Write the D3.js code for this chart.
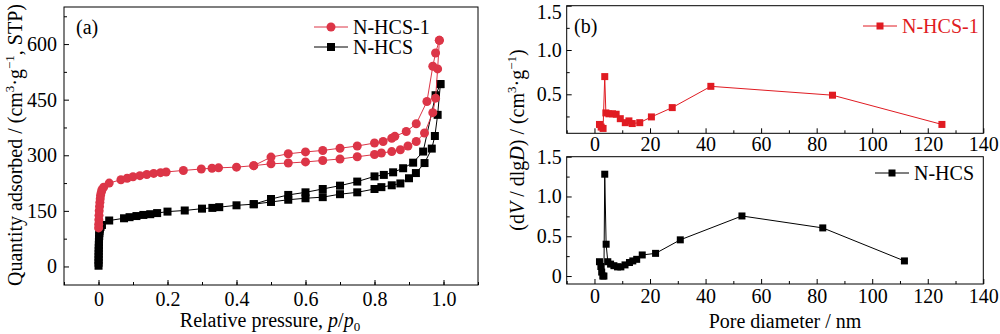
<!DOCTYPE html>
<html>
<head>
<meta charset="utf-8">
<script src="https://cdn.jsdelivr.net/npm/d3@7"></script>
<style>
  body { margin: 0; background: #fff; }
  svg text { font-family: "Liberation Serif", "Times New Roman", serif; }
</style>
</head>
<body>
<svg id="chart" width="1000" height="334"></svg>
<script>
// (a) isotherms: [p/p0, quantity adsorbed]
var hcs1Ads = [[0.0003,104],[0.0006,114],[0.001,126],[0.0015,138],[0.002,150],[0.003,162],[0.004,173],[0.005,183],[0.006,192],[0.008,200],[0.01,207],[0.015,214],
  [0.031,225],[0.065,234],[0.083,238],[0.1,242],[0.12,245],[0.14,248],[0.16,251],[0.18,253],[0.196,255],[0.246,259],[0.298,263],[0.329,265],[0.348,266],
  [0.4,268],[0.45,272],[0.5,277],[0.55,279],[0.6,282],[0.65,286],[0.7,290],[0.75,296],[0.8,302],[0.82,306],[0.85,310],[0.875,315],[0.897,325],
  [0.921,337],[0.945,360],[0.969,415],[0.977,454],[0.983,533],[0.988,610]];
var hcs1Des = [[0.988,610],[0.977,576],[0.969,540],[0.952,445],[0.921,385],[0.892,364],[0.859,351],[0.85,346],[0.825,337],[0.8,333],[0.75,325],
  [0.7,319],[0.65,313],[0.6,309],[0.55,304],[0.5,295],[0.45,272]];
var hcsAds = [[0.0001,2],[0.0002,10],[0.0003,18],[0.0004,26],[0.0005,34],[0.0006,42],[0.0008,50],[0.001,58],[0.0012,66],[0.0015,74],[0.002,82],
  [0.0025,90],[0.003,96],[0.004,102],[0.006,107],[0.01,112],[0.031,124],[0.074,130],[0.09,133],[0.11,136],[0.13,139],[0.15,141],[0.17,144],[0.2,148],
  [0.25,151],[0.3,156],[0.33,158],[0.35,160],[0.4,165],[0.45,168],[0.5,174],[0.55,180],[0.6,184],[0.65,187],[0.7,195],[0.75,200],[0.8,209],[0.82,214],
  [0.85,219],[0.875,224],[0.9,238],[0.92,252],[0.945,279],[0.966,318],[0.975,352],[0.983,409],[0.991,492]];
var hcsDes = [[0.991,492],[0.977,462],[0.941,310],[0.912,280],[0.883,265],[0.854,254],[0.827,247],[0.8,243],[0.75,229],[0.7,218],[0.65,209],
  [0.6,200],[0.55,193],[0.5,182],[0.45,168]];

// (b) pore size distributions: [pore diameter nm, dV/dlgD]
var hcs1Pore = [[1.8,0.16],[2.4,0.13],[3.1,0.115],[3.7,0.70],[4.1,0.29],[5.2,0.28],[6.5,0.28],[7.8,0.275],[9.3,0.225],[11.1,0.18],[12.4,0.20],
  [13.6,0.17],[16.3,0.18],[20.5,0.245],[28.0,0.35],[41.9,0.59],[85.7,0.49],[125.1,0.16]];
var hcsPore = [[1.8,0.18],[2.3,0.12],[2.6,0.05],[3.0,0.0],[3.4,0.0],[3.7,1.28],[4.2,0.40],[4.8,0.18],[5.8,0.15],[7.0,0.13],[8.3,0.115],[9.5,0.115],
  [11.0,0.14],[12.6,0.17],[13.8,0.19],[15.2,0.21],[17.2,0.265],[22.0,0.285],[30.9,0.455],[53.1,0.755],[82.2,0.605],[111.6,0.19]];

var isoXTicks = [0, 0.2, 0.4, 0.6, 0.8, 1.0];
var isoYTicks = [0, 150, 300, 450, 600];
var poreXTicks = [0, 20, 40, 60, 80, 100, 120, 140];
var poreYTicksTop = [0.5, 1.0, 1.5];
var poreYTicksBot = [0, 0.5, 1.0, 1.5];

var RED_A = '#dc3547', RED_B = '#e01b22';
var svg = d3.select('#chart');

function fmt(d) { return d === 0 ? '0' : d3.format('.1f')(d); }

// text with italic / sup / sub pieces
function rich(text, parts) {
  var shift = 0;
  parts.forEach(function (p) {
    var t = text.append('tspan').text(p[0]);
    var target = p[1] === 'sup' ? -8 : (p[1] === 'sub' ? 4 : 0);
    if (target !== shift) t.attr('dy', target - shift);
    shift = target;
    if (p[1] === 'i') t.style('font-style', 'italic');
    if (p[1] === 'sup' || p[1] === 'sub') t.attr('font-size', 13);
  });
}

function frame(x, y) {
  svg.append('rect')
    .attr('x', x.range()[0]).attr('y', y.range()[1])
    .attr('width', x.range()[1] - x.range()[0])
    .attr('height', y.range()[0] - y.range()[1])
    .attr('fill', 'none').attr('stroke', '#000').attr('stroke-width', 1);
}

function axes(x, y, xt, xMinor, yt, yMinor, xFmt, yFmt, xPad, yPad) {
  var bot = y.range()[0], left = x.range()[0];
  var gx = svg.append('g').attr('transform', 'translate(0,' + bot + ')')
    .call(d3.axisBottom(x).tickValues(xt).tickSize(-5).tickPadding(xPad).tickFormat(xFmt));
  svg.append('g').attr('transform', 'translate(0,' + bot + ')')
    .call(d3.axisBottom(x).tickValues(xMinor).tickSize(-3).tickFormat(''));
  var gy = svg.append('g').attr('transform', 'translate(' + left + ',0)')
    .call(d3.axisLeft(y).tickValues(yt).tickSize(-5).tickPadding(yPad).tickFormat(yFmt));
  svg.append('g').attr('transform', 'translate(' + left + ',0)')
    .call(d3.axisLeft(y).tickValues(yMinor).tickSize(-3).tickFormat(''));
  svg.selectAll('.domain').remove();
  [gx, gy].forEach(function (g) {
    g.selectAll('text').attr('font-size', 20).attr('fill', '#000')
      .style('font-family', '"Liberation Serif", serif');
  });
  return gy;
}

function series(x, y, data, color, shape, size) {
  var line = d3.line().x(function (d) { return x(d[0]); }).y(function (d) { return y(d[1]); });
  svg.append('path').datum(data).attr('d', line)
    .attr('fill', 'none').attr('stroke', color).attr('stroke-width', 1);
  var g = svg.append('g');
  if (shape === 'circle') {
    g.selectAll('circle').data(data).enter().append('circle')
      .attr('cx', function (d) { return x(d[0]); })
      .attr('cy', function (d) { return y(d[1]); })
      .attr('r', size / 2).attr('fill', color);
  } else {
    g.selectAll('rect').data(data).enter().append('rect')
      .attr('x', function (d) { return x(d[0]) - size / 2; })
      .attr('y', function (d) { return y(d[1]) - size / 2; })
      .attr('width', size).attr('height', size).attr('fill', color);
  }
}

function legendItem(x0, yc, color, shape, size, label, textColor) {
  svg.append('line').attr('x1', x0).attr('x2', x0 + 34).attr('y1', yc).attr('y2', yc)
    .attr('stroke', color).attr('stroke-width', 1);
  if (shape === 'circle') {
    svg.append('circle').attr('cx', x0 + 17).attr('cy', yc).attr('r', size / 2).attr('fill', color);
  } else {
    svg.append('rect').attr('x', x0 + 17 - size / 2).attr('y', yc - size / 2)
      .attr('width', size).attr('height', size).attr('fill', color);
  }
  svg.append('text').attr('x', x0 + 39).attr('y', yc).attr('dy', '0.35em')
    .attr('font-size', 20).attr('fill', textColor).text(label);
}

// ---------- panel (a) ----------
var xa = d3.scaleLinear().domain([-0.1, 1.1]).range([64, 478]);
var ya = d3.scaleLinear().domain([-50, 700]).range([285, 7]);
axes(xa, ya, isoXTicks, d3.range(-0.1, 1.15, 0.1).map(function (d) { return +d.toFixed(1); }),
  isoYTicks, [75, 225, 375, 525, 675], fmt, d3.format('d'), 7, 7);
frame(xa, ya);

series(xa, ya, hcsAds, '#000', 'rect', 8);
series(xa, ya, hcsDes, '#000', 'rect', 8);
series(xa, ya, hcs1Ads, RED_A, 'circle', 9);
series(xa, ya, hcs1Des, RED_A, 'circle', 9);

svg.append('text').attr('x', 76).attr('y', 27).attr('dy', '0.35em').attr('font-size', 20).text('(a)');
legendItem(314, 27, RED_A, 'circle', 9, 'N-HCS-1', '#000');
legendItem(314, 47, '#000', 'rect', 8, 'N-HCS', '#000');

var ta = svg.append('text').attr('text-anchor', 'middle').attr('font-size', 20)
  .attr('x', 270).attr('y', 327);
rich(ta, [['Relative pressure, '], ['p', 'i'], ['/'], ['p', 'i'], ['0', 'sub']]);

var tya = svg.append('text').attr('text-anchor', 'middle').attr('font-size', 20)
  .attr('transform', 'translate(22,145) rotate(-90)');
rich(tya, [['Quantity adsorbed / (cm'], ['3', 'sup'], ['·g'], ['−1', 'sup'], [', STP)']]);

// ---------- panel (b) ----------
var xb = d3.scaleLinear().domain([-10, 140]).range([566.7, 983.3]);
var ybt = d3.scaleLinear().domain([0.06, 1.5]).range([133.3, 5.7]);
var ybb = d3.scaleLinear().domain([-0.1, 1.5]).range([284, 156.7]);
var poreMinor = [-10, 10, 30, 50, 70, 90, 110, 130];

var gyt = axes(xb, ybt, poreXTicks, poreMinor, poreYTicksTop, [0.25, 0.75, 1.25], d3.format('d'), fmt, 4, 5);
// keep the top "1.5" inside the picture
gyt.selectAll('.tick text').filter(function (d) { return d === 1.5; }).attr('dy', '0.62em');
frame(xb, ybt);
axes(xb, ybb, poreXTicks, poreMinor, poreYTicksBot, [0.25, 0.75, 1.25], d3.format('d'), fmt, 5, 5);
frame(xb, ybb);

series(xb, ybt, hcs1Pore, RED_B, 'rect', 7);
series(xb, ybb, hcsPore, '#000', 'rect', 7);

svg.append('text').attr('x', 574).attr('y', 26).attr('dy', '0.35em').attr('font-size', 20).text('(b)');
legendItem(863, 26, RED_B, 'rect', 7, 'N-HCS-1', RED_B);
legendItem(875, 173, '#000', 'rect', 7, 'N-HCS', '#000');

svg.append('text').attr('text-anchor', 'middle').attr('font-size', 20)
  .attr('x', 785).attr('y', 328).text('Pore diameter / nm');

var tyb = svg.append('text').attr('text-anchor', 'middle').attr('font-size', 20)
  .attr('transform', 'translate(524,140) rotate(-90)');
rich(tyb, [['(d'], ['V', 'i'], [' / dlg'], ['D', 'i'], [') / (cm'], ['3', 'sup'], ['·g'], ['−1', 'sup'], [')']]);
</script>
</body>
</html>
